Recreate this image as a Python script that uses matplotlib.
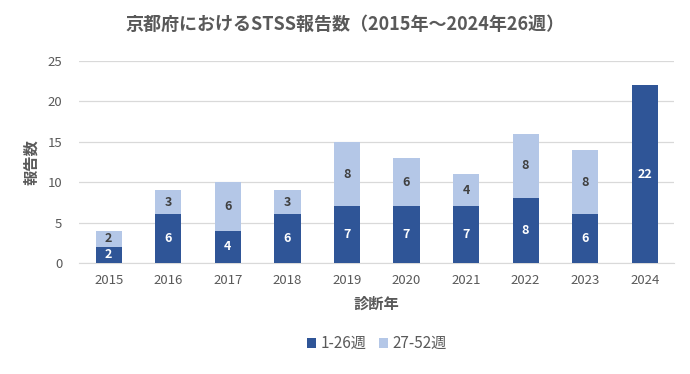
import matplotlib
matplotlib.use("Agg")
import matplotlib.pyplot as plt
import numpy as np

plt.rcParams['font.family'] = ['Noto Sans CJK JP', 'DejaVu Sans']

years = ['2015', '2016', '2017', '2018', '2019', '2020', '2021', '2022', '2023', '2024']
first_half = [2, 6, 4, 6, 7, 7, 7, 8, 6, 22]
second_half = [2, 3, 6, 3, 8, 6, 4, 8, 8, 0]
series_names = ['1-26週', '27-52週']
title = '京都府におけるSTSS報告数（2015年～2024年26週）'

c1 = '#2F5597'
c2 = '#B4C7E7'
grey = '#595959'

fig = plt.figure(figsize=(6.9, 3.74), dpi=100)
ax = fig.add_axes([0.1145, 0.297, 0.863, 0.540])
x = np.arange(len(years))
w = 0.44
b1 = ax.bar(x, first_half, w, color=c1, label=series_names[0], zorder=3)
b2 = ax.bar(x, second_half, w, bottom=first_half, color=c2, label=series_names[1], zorder=3)

for i, v in enumerate(first_half):
    if v:
        ax.text(x[i], v / 2, str(v), ha='center', va='center', color='white',
                fontsize=9, fontweight='bold', zorder=4)
for i, v in enumerate(second_half):
    if v:
        ax.text(x[i], first_half[i] + v / 2, str(v), ha='center', va='center',
                color='#404040', fontsize=9, fontweight='bold', zorder=4)

ax.set_xlim(-0.5, len(years) - 0.5)
ax.set_ylim(0, 25)
ax.set_yticks(range(0, 26, 5))
ax.set_xticks(x)
ax.set_xticklabels(years)
ax.grid(axis='y', color='#D9D9D9', linewidth=0.9, zorder=0)
for s in ['top', 'right', 'left']:
    ax.spines[s].set_visible(False)
ax.spines['bottom'].set_color('#D9D9D9')
ax.tick_params(axis='both', length=0, colors=grey, labelsize=9.5)
ax.tick_params(axis='x', pad=8)
ax.tick_params(axis='y', pad=12)

ax.set_ylabel('報告数', color=grey, fontsize=11, fontweight='bold', labelpad=6)
ax.set_xlabel('診断年', color=grey, fontsize=11, fontweight='bold', labelpad=6)
fig.text(0.5, 0.935, title, ha='center', va='center', color=grey, fontsize=13, fontweight='bold')

leg = ax.legend(loc='upper center', bbox_to_anchor=(0.5, -0.29), ncol=2, frameon=False,
                fontsize=11, handlelength=0.6, handleheight=0.6, handletextpad=0.3, columnspacing=0.8,
                labelcolor=grey)

fig.savefig('out.png', dpi=100)
